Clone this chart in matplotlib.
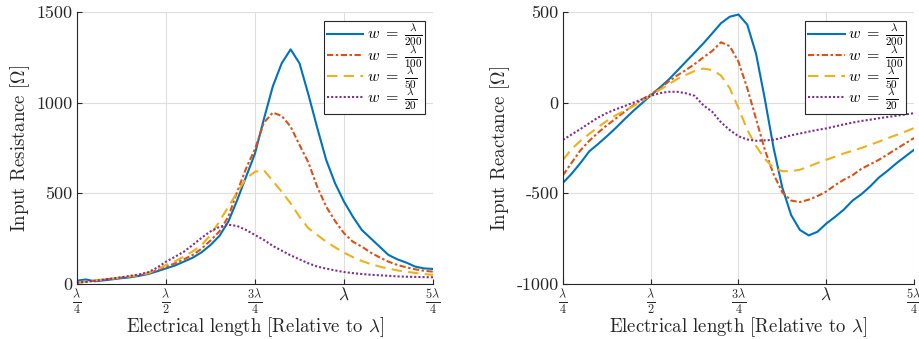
import numpy as np
import matplotlib
matplotlib.use("Agg")
import matplotlib.pyplot as plt

plt.rcParams['font.family'] = 'serif'
plt.rcParams['font.serif'] = ['cmr10', 'DejaVu Serif']
plt.rcParams['mathtext.fontset'] = 'cm'
plt.rcParams['axes.unicode_minus'] = False

# electrical length in units of lambda
length = [0.25 + 0.025 * i for i in range(41)]

res_200 = [18, 25, 15, 20, 26, 32, 37, 45, 55, 70, 86, 102, 123, 145, 175, 215, 265, 344, 463, 592,
           720, 910, 1090, 1217, 1294, 1217, 1045, 860, 684, 555, 454, 371, 298, 252, 206, 160, 136, 118, 96, 86, 83]
res_100 = [8, 12, 18, 24, 29, 35, 40, 48, 60, 76, 95, 114, 136, 160, 195, 240, 290, 371, 509, 638,
           745, 890, 945, 927, 868, 767, 670, 535, 427, 347, 280, 233, 206, 173, 147, 123, 105, 92, 81, 73, 68]
res_50 = [10, 14, 20, 25, 30, 36, 42, 50, 60, 80, 105, 125, 151, 180, 215, 270, 345, 426, 505, 583,
          619, 628, 568, 509, 445, 371, 307, 270, 233, 202, 173, 148, 127, 110, 96, 85, 75, 68, 61, 55, 50]
res_20 = [8, 12, 18, 24, 30, 37, 45, 53, 65, 90, 123, 150, 178, 215, 255, 290, 315, 327, 320, 298,
          270, 243, 210, 184, 158, 136, 114, 96, 85, 75, 66, 60, 55, 51, 48, 45, 42, 40, 39, 38, 37]

reac_200 = [-442, -391, -332, -268, -228, -185, -140, -92, -46, -3, 40, 82, 125, 175, 226, 276, 327, 382, 438, 474,
            486, 430, 270, 20, -250, -470, -620, -702, -732, -712, -667, -630, -590, -540, -505, -462, -413, -375, -334, -297, -260]
reac_100 = [-400, -330, -262, -210, -165, -125, -88, -50, -15, 18, 45, 78, 115, 150, 180, 213, 250, 285, 333, 312,
            225, 80, -90, -260, -395, -495, -540, -548, -535, -515, -490, -455, -425, -400, -365, -340, -315, -285, -255, -225, -195]
reac_50 = [-315, -255, -210, -172, -135, -100, -70, -45, -20, 10, 40, 70, 100, 130, 153, 175, 188, 180, 150, 80,
           -30, -150, -240, -310, -360, -378, -378, -370, -352, -333, -315, -298, -280, -265, -250, -232, -215, -196, -178, -160, -140]
reac_20 = [-205, -175, -145, -113, -82, -57, -37, -19, 0, 18, 38, 52, 60, 60, 52, 38, -15, -50, -108, -151,
           -185, -203, -210, -208, -205, -193, -180, -170, -160, -150, -142, -131, -120, -110, -101, -94, -86, -79, -72, -65, -58]

labels = [r'$w\;=\;\frac{\lambda}{200}$', r'$w\;=\;\frac{\lambda}{100}$',
          r'$w\;=\;\frac{\lambda}{50}$', r'$w\;=\;\frac{\lambda}{20}$']
colors = ['#0072BD', '#D95319', '#EDB120', '#7E2F8E']
styles = ['-', (0, (3, 1.2, 1.2, 1.2)), (0, (5, 3)), (0, (1, 1))]

xticks = [0.25, 0.5, 0.75, 1.0, 1.25]
xticklabels = [r'$\frac{\lambda}{4}$', r'$\frac{\lambda}{2}$', r'$\frac{3\lambda}{4}$',
               r'$\lambda$', r'$\frac{5\lambda}{4}$']

fig = plt.figure(figsize=(9.2, 3.39), dpi=100)
W, H = 920, 339
ax1 = fig.add_axes([77 / W, (H - 284) / H, 356 / W, 272 / H])
ax2 = fig.add_axes([563 / W, (H - 284) / H, 351 / W, 272 / H])

def style(ax, series, ylim, yticks, yticklabels, ylabel):
    for s, c, ls, lab in zip(series, colors, styles, labels):
        ax.plot(length, s, color=c, linestyle=ls, linewidth=1.5, label=lab)
    ax.set_xlim(0.25, 1.25)
    ax.set_ylim(*ylim)
    ax.set_xticks(xticks)
    ax.set_xticklabels(xticklabels, fontsize=12.5)
    ax.set_yticks(yticks)
    ax.set_yticklabels(yticklabels, fontsize=13)
    ax.grid(True, color='#dedede', linewidth=0.8)
    ax.set_axisbelow(True)
    for sp in ['top', 'right']:
        ax.spines[sp].set_visible(False)
    for sp in ['left', 'bottom']:
        ax.spines[sp].set_color('#262626')
        ax.spines[sp].set_linewidth(0.8)
    ax.tick_params(direction='in', length=3.5, width=0.8, color='#262626', labelcolor='#262626')
    ax.tick_params(axis='x', pad=2)
    ax.tick_params(axis='y', pad=3)
    ax.set_xlabel(r'Electrical length [Relative to $\lambda$]', fontsize=13.5, color='#262626', labelpad=0)
    ax.set_ylabel(ylabel, fontsize=13.5, color='#262626', labelpad=3)
    leg = ax.legend(loc='upper right', bbox_to_anchor=(1 - 8 / 356, 1 - 9 / 272), borderaxespad=0,
                    fontsize=11.5, fancybox=False, framealpha=1, edgecolor='#262626',
                    handlelength=2.3, handletextpad=0.2, labelspacing=-0.25, borderpad=0.15)
    leg.get_frame().set_linewidth(0.8)

style(ax1, [res_200, res_100, res_50, res_20], (0, 1500), [0, 500, 1000, 1500],
      ['0', '500', '1000', '1500'], r'Input Resistance [$\Omega$]')
style(ax2, [reac_200, reac_100, reac_50, reac_20], (-1000, 500), [-1000, -500, 0, 500],
      ['-1000', '-500', '0', '500'], r'Input Reactance [$\Omega$]')

fig.savefig('out.png', dpi=100)
